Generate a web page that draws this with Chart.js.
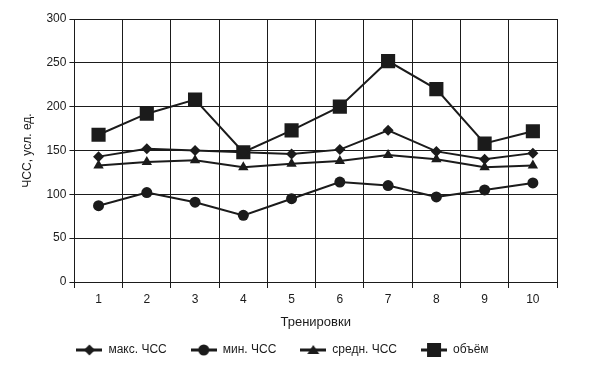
<!DOCTYPE html>
<html>
<head>
<meta charset="utf-8">
<script src="https://cdn.jsdelivr.net/npm/chart.js@4"></script>
<style>
  html, body { margin: 0; padding: 0; background: #fff; }
  #wrap { width: 589px; height: 373px; }
</style>
</head>
<body>
<div id="wrap"><canvas id="chart" width="589" height="373"></canvas></div>
<script>
// Данные графика
const trainings = ['1', '2', '3', '4', '5', '6', '7', '8', '9', '10'];
const maxHr = [143, 152, 150, 148, 146, 151, 173, 149, 140, 147];
const minHr = [87, 102, 91, 76, 95, 114, 110, 97, 105, 113];
const avgHr = [133, 137, 139, 131, 135, 138, 145, 140, 131, 133];
const volume = [168, 192, 208, 148, 173, 200, 252, 220, 158, 172];
const seriesNames = ['макс. ЧСС', 'мин. ЧСС', 'средн. ЧСС', 'объём'];

const ink = '#1b1b1b';
const font = 'Liberation Sans, Arial, sans-serif';

// Значок легенды: линия с маркером
function legendIcon(style) {
    const c = document.createElement('canvas');
    c.width = 26; c.height = 14;
    const g = c.getContext('2d');
    g.strokeStyle = ink; g.fillStyle = ink; g.lineWidth = 3;
    g.beginPath(); g.moveTo(0, 7); g.lineTo(26, 7); g.stroke();
    g.beginPath();
    if (style === 'rectRot') { g.moveTo(13, 1.5); g.lineTo(18.5, 7); g.lineTo(13, 12.5); g.lineTo(7.5, 7); }
    else if (style === 'circle') { g.arc(13, 7, 5.5, 0, Math.PI * 2); }
    else if (style === 'triangle') { g.moveTo(13, 2); g.lineTo(19, 11); g.lineTo(7, 11); }
    else { g.rect(6, 0, 14, 14); }
    g.closePath(); g.fill();
    return c;
}

function makeSet(label, data, style, radius) {
    return {
        label: label,
        data: data,
        borderColor: ink,
        backgroundColor: ink,
        borderWidth: 2,
        pointStyle: style,
        pointRadius: radius,
        pointHoverRadius: radius,
        pointBorderWidth: 0,
        tension: 0
    };
}

const datasets = [
    makeSet(seriesNames[0], maxHr, 'rectRot', 5.5),
    makeSet(seriesNames[1], minHr, 'circle', 5.5),
    makeSet(seriesNames[2], avgHr, 'triangle', 6),
    makeSet(seriesNames[3], volume, 'rect', 10)
];

new Chart(document.getElementById('chart').getContext('2d'), {
    type: 'line',
    data: { labels: trainings, datasets: datasets },
    options: {
        responsive: false,
        animation: false,
        layout: { padding: { top: 19, right: 32, left: 8, bottom: 7 } },
        plugins: {
            tooltip: { enabled: false },
            legend: {
                position: 'bottom',
                labels: {
                    usePointStyle: true,
                    pointStyleWidth: 26,
                    padding: 24,
                    color: ink,
                    font: { family: font, size: 12 },
                    generateLabels: function (chart) {
                        return chart.data.datasets.map(function (ds, i) {
                            return {
                                text: ds.label,
                                pointStyle: legendIcon(ds.pointStyle),
                                fillStyle: ink,
                                strokeStyle: ink,
                                lineWidth: 0,
                                fontColor: ink,
                                datasetIndex: i,
                                hidden: false
                            };
                        });
                    }
                }
            }
        },
        scales: {
            x: {
                offset: true,
                grid: { offset: true, color: ink, lineWidth: 1, tickLength: 6 },
                border: { color: ink, width: 1 },
                ticks: { color: ink, font: { family: font, size: 12 }, padding: 4 },
                title: { display: true, text: 'Тренировки', color: ink, font: { family: font, size: 13 }, padding: { top: 4, bottom: -10 } }
            },
            y: {
                min: 0,
                max: 300,
                ticks: { stepSize: 50, color: ink, font: { family: font, size: 12 }, padding: 3 },
                grid: { color: ink, lineWidth: 1, tickLength: 5 },
                border: { color: ink, width: 1 },
                title: { display: true, text: 'ЧСС, усл. ед.', color: ink, font: { family: font, size: 12 }, padding: { top: 12, bottom: 9 } }
            }
        }
    }
});
</script>
</body>
</html>
